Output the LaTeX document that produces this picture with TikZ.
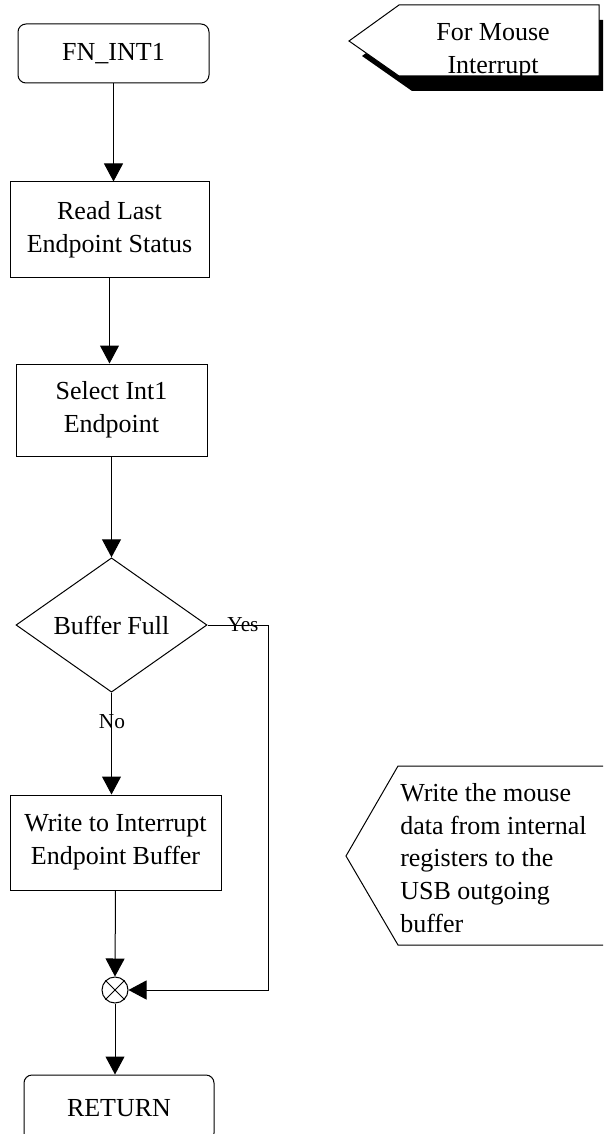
\documentclass[tikz,border=0pt]{standalone}
\usepackage{fontspec}
\setmainfont{Liberation Serif}
\usetikzlibrary{arrows.meta,shapes.geometric}
\newlength{\pxl}\setlength{\pxl}{0.75pt}
\begin{document}
\begin{tikzpicture}[x=0.75pt,y=-0.75pt,
  every node/.style={font=\fontsize{19.5}{24.6}\selectfont},
  proc/.style={draw, line width=0.75pt, inner sep=0pt, align=center},
  term/.style={proc, rounded corners=8\pxl},
  dec/.style={draw, diamond, line width=0.75pt, inner sep=0pt, minimum width=191\pxl, minimum height=126\pxl},
  sumj/.style={draw, circle, line width=0.75pt, inner sep=0pt, minimum size=26\pxl},
  conn/.style={line width=0.75pt, -{Triangle[length=13.5pt,width=14.25pt]}},
  wire/.style={line width=0.75pt},
  lbl/.style={font=\fontsize{16}{19}\selectfont, inner sep=0pt},
  note/.style={line width=0.75pt, fill=white},
]
\useasboundingbox (0,0) rectangle (603,1134);
\clip (0,0) rectangle (603,1134);

% flow nodes
\node[term, minimum width=191\pxl, minimum height=59\pxl] (fn) at (113.5,53.5) {FN\_INT1};
\node[proc, minimum width=199\pxl, minimum height=95\pxl] (read) at (109.5,229.5) {Read Last\\Endpoint Status};
\node[proc, minimum width=191\pxl, minimum height=92\pxl] (sel) at (111.5,410) {Select Int1\\Endpoint};
\node[dec] (dia) at (111.5,625) {Buffer Full};
\node[proc, minimum width=211\pxl, minimum height=95\pxl] (wr) at (115.5,842.5) {Write to Interrupt\\Endpoint Buffer};
\node[sumj] (sum) at (115,990) {};
\draw[wire] (sum.45) -- (sum.225) (sum.135) -- (sum.315);
\node[term, minimum width=190\pxl, minimum height=66\pxl] (ret) at (119,1108) {RETURN};

% connectors
\draw[conn] (fn.south) -- (fn.south |- read.north);
\draw[conn] (read.south) -- (read.south |- sel.north);
\draw[conn] (sel.south) -- (sel.south |- dia.north);
\draw[conn] (dia.south) -- (dia.south |- wr.north);
\draw[conn] (wr.south) -- (sum.north);
\coordinate (yc) at (268,625);
\draw[conn] (dia.east) -- (yc) |- (sum.east);
\draw[conn] (sum.south) -- (sum.south |- ret.north);

% labels
\node[lbl] (yes) at (243,625) {Yes};
\node[lbl] (no) at (112,722) {No};

% callout 1 with shadow
\fill[black] (362,56) -- (412,20) -- (612,20) -- (612,91) -- (412,91) -- cycle;
\draw[note] (349,41) -- (399,5) -- (599,5) -- (599,76) -- (399,76) -- cycle;
\node[align=center, inner sep=0pt] (c1) at (493,51) {For Mouse\\Interrupt};

% callout 2
\draw[note] (346,856) -- (398,766) -- (640,766) -- (640,945) -- (398,945) -- cycle;
\node[align=left, anchor=west, inner sep=0pt] (c2) at (400,858) {Write the mouse\\data from internal\\registers to the\\USB outgoing\\buffer};
\end{tikzpicture}
\end{document}
